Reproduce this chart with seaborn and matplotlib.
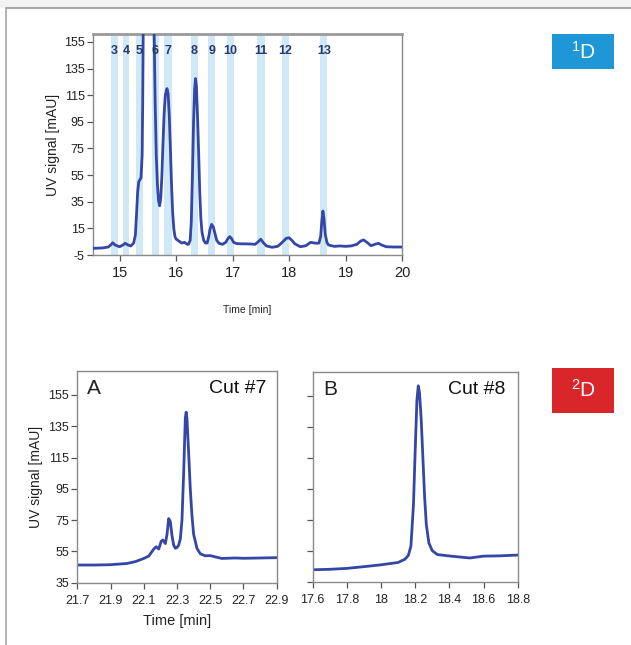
import matplotlib
matplotlib.use("Agg")
import matplotlib.pyplot as plt
import seaborn as sns
import pandas as pd
from matplotlib.lines import Line2D
from matplotlib.patches import Rectangle
from matplotlib import font_manager

# ---------------- data ----------------
# 1D chromatogram trace
t1_time = [14.53, 14.7, 14.8, 14.85, 14.88, 14.92, 15.0, 15.06, 15.1, 15.15, 15.2,
           15.25, 15.28, 15.30, 15.32, 15.34, 15.36, 15.38, 15.40, 15.41, 15.42, 15.45,
           15.55, 15.61, 15.63, 15.65, 15.67, 15.69, 15.71, 15.73, 15.75, 15.77, 15.79,
           15.81, 15.84, 15.86, 15.88, 15.90, 15.92, 15.94, 15.96, 15.98, 16.0, 16.05,
           16.1, 16.15, 16.2, 16.22, 16.25, 16.27, 16.29, 16.31, 16.33, 16.345, 16.36,
           16.38, 16.40, 16.42, 16.44, 16.46, 16.49, 16.52, 16.55, 16.58, 16.60, 16.63,
           16.66, 16.69, 16.72, 16.76, 16.82, 16.88, 16.92, 16.95, 16.98, 17.02, 17.07,
           17.15, 17.3, 17.4, 17.45, 17.5, 17.54, 17.6, 17.7, 17.8, 17.88, 17.95, 18.0,
           18.05, 18.1, 18.2, 18.3, 18.38, 18.45, 18.5, 18.53, 18.56, 18.58, 18.60,
           18.62, 18.64, 18.67, 18.7, 18.8, 18.9, 19.0, 19.1, 19.2, 19.27, 19.32, 19.38,
           19.45, 19.52, 19.58, 19.64, 19.72, 19.85, 20.0]
t1_signal = [0.0, 0.3, 1.0, 2.8, 4.2, 2.5, 1.2, 2.5, 3.8, 2.5, 1.8,
             4.0, 10, 25, 42, 50, 51.5, 53, 70, 110, 170, 400,
             500, 170, 110, 70, 48, 36, 32, 38, 55, 80, 102,
             115, 120, 116, 100, 75, 48, 27, 15, 9, 7, 5.5,
             4.0, 4.5, 3.0, 3.0, 6, 20, 55, 95, 120, 127.5, 122,
             100, 72, 42, 22, 12, 6, 4, 4, 9, 14, 18,
             16, 11, 6, 3.8, 3.0, 4.5, 7.5, 8.8, 7.5, 4.5, 3.6,
             3.4, 3.3, 3.0, 4.8, 6.8, 4.5, 1.8, 0.8, 1.5, 4.5, 7.5, 8.0,
             6.0, 3.5, 1.2, 2.0, 4.5, 4.0, 3.8, 4.0, 9, 20, 28,
             22, 11, 4.5, 2.5, 1.5, 1.8, 1.5, 1.8, 3.0, 5.5, 6.3, 4.5,
             2.0, 3.0, 3.8, 2.5, 1.2, 1.0, 1.0]

# fraction cut windows (start, end) and labels
cut_labels = ["3", "4", "5", "6", "7", "8", "9", "10", "11", "12", "13"]
cut_start = [14.853, 15.06, 15.30, 15.57, 15.79, 16.26, 16.57, 16.90, 17.44, 17.87, 18.55]
cut_end = [14.965, 15.17, 15.41, 15.69, 15.93, 16.38, 16.69, 17.02, 17.57, 18.00, 18.68]

# 2D cut #7
a_time = [21.7, 21.8, 21.9, 22.0, 22.05, 22.1, 22.13, 22.16, 22.175, 22.19, 22.205,
          22.215, 22.23, 22.24, 22.25, 22.26, 22.27, 22.28, 22.29, 22.30, 22.31, 22.32,
          22.33, 22.34, 22.35, 22.355, 22.36, 22.37, 22.38, 22.39, 22.40, 22.42, 22.44,
          22.47, 22.5, 22.53, 22.57, 22.65, 22.7, 22.8, 22.9]
a_signal = [46.3, 46.3, 46.5, 47.3, 48.5, 50.5, 52, 56.5, 58, 56.5, 61.5,
            62.3, 60, 66, 76, 74, 65, 59, 57, 57.5, 59, 63,
            75, 105, 140, 144, 140, 118, 95, 78, 66, 57, 53.5,
            52.2, 52.3, 51.5, 50.5, 50.8, 50.6, 50.8, 51.0]

# 2D cut #8
b_time = [17.6, 17.7, 17.8, 17.9, 18.0, 18.1, 18.14, 18.16, 18.175, 18.19, 18.2,
          18.21, 18.218, 18.225, 18.235, 18.245, 18.255, 18.265, 18.28, 18.3, 18.33,
          18.4, 18.52, 18.6, 18.7, 18.8]
b_signal = [42.7, 43.0, 43.6, 44.7, 45.9, 47.4, 49.5, 52, 58, 85, 120,
            152, 161.4, 157, 140, 115, 90, 72, 60, 55, 52.5,
            51.6, 50.3, 51.5, 51.7, 52.2]

y_ticks_1d = [-5, 15, 35, 55, 75, 95, 115, 135, 155]
x_ticks_1d = [15, 16, 17, 18, 19, 20]
y_ticks_2d = [35, 55, 75, 95, 115, 135, 155]
x_ticks_a = [21.7, 21.9, 22.1, 22.3, 22.5, 22.7, 22.9]
x_ticks_b = [17.6, 17.8, 18.0, 18.2, 18.4, 18.6, 18.8]
x_ticklabels_b = ["17.6", "17.8", "18", "18.2", "18.4", "18.6", "18.8"]

# ---------------- style ----------------
sns.set_theme(style="white")
names = {f.name for f in font_manager.fontManager.ttflist}
narrow = "Liberation Sans Narrow" if "Liberation Sans Narrow" in names else "Liberation Sans"
plt.rcParams["font.family"] = ["Liberation Sans", "DejaVu Sans"]
plt.rcParams["mathtext.default"] = "regular"
plt.rcParams["axes.unicode_minus"] = False

LINE = "#3446a6"
BAND = "#cfe9f6"
W, H = 631, 645

fig = plt.figure(figsize=(W / 100, H / 100), dpi=100)
fig.patch.set_facecolor("white")


def ax_px(left, top, right, bottom):
    return fig.add_axes([left / W, 1 - bottom / H, (right - left) / W, (bottom - top) / H])


# outer frame
fig.patches.append(Rectangle((0, 1 - 8 / H), 1, 8 / H, transform=fig.transFigure,
                             facecolor="#f3f3f3", edgecolor="none", zorder=0))
fig.lines.append(Line2D([6 / W, 1], [1 - 8 / H, 1 - 8 / H], transform=fig.transFigure,
                        color="#a8a8a8", lw=1.5))
fig.lines.append(Line2D([6 / W, 6 / W], [0, 1 - 8 / H], transform=fig.transFigure,
                        color="#a8a8a8", lw=1.2))


def style_axes(ax):
    for s in ax.spines.values():
        s.set_color("#8a8a8a")
        s.set_linewidth(1.0)
    ax.tick_params(axis="both", direction="out", length=4, width=0.9, color="#555555",
                   labelcolor="#222222", bottom=True, left=True, pad=2)
    ax.grid(False)


LW = dict(linewidth=2.0, solid_joinstyle="round", solid_capstyle="round")

# ---------------- 1D ----------------
ax1 = ax_px(93, 34, 402, 255)
for s, e in zip(cut_start, cut_end):
    ax1.axvspan(s, e, color=BAND, lw=0, zorder=0)
df1 = pd.DataFrame({"t": t1_time, "s": t1_signal})
sns.lineplot(data=df1, x="t", y="s", ax=ax1, color=LINE, sort=False, zorder=3, **LW)
for lab, s, e in zip(cut_labels, cut_start, cut_end):
    ax1.text((s + e) / 2, 148.5, lab, ha="center", va="center", fontsize=9,
             color="#27386e", family=narrow, fontweight="bold", zorder=4)
ax1.set_xlim(14.53, 20)
ax1.set_ylim(-5, 161)
ax1.set_yticks(y_ticks_1d)
ax1.set_xticks(x_ticks_1d)
style_axes(ax1)
ax1.spines["top"].set_linewidth(2.0)
ax1.spines["top"].set_color("#9a9a9a")
ax1.tick_params(axis="y", labelsize=9)
ax1.tick_params(axis="x", labelsize=10.5, pad=4)
for lb in ax1.get_xticklabels() + ax1.get_yticklabels():
    lb.set_family(narrow)
ax1.set_xlabel("Time [min]", fontsize=7.5, family=narrow, labelpad=18, color="#222222")
ax1.set_ylabel("UV signal [mAU]", fontsize=10, family=narrow, labelpad=3, color="#222222")

# ---------------- 2D A ----------------
axA = ax_px(77.3, 370.7, 276.7, 582.7)
dfa = pd.DataFrame({"t": a_time, "s": a_signal})
sns.lineplot(data=dfa, x="t", y="s", ax=axA, color=LINE, sort=False, **LW)
axA.set_xlim(21.7, 22.9)
axA.set_ylim(35, 170.5)
axA.set_yticks(y_ticks_2d)
axA.set_xticks(x_ticks_a)
axA.set_xticklabels([f"{v:.1f}" for v in x_ticks_a])
style_axes(axA)
axA.tick_params(labelsize=9)
axA.tick_params(axis="x", pad=5)
for lb in axA.get_xticklabels() + axA.get_yticklabels():
    lb.set_family(narrow)
axA.set_xlabel("Time [min]", fontsize=10.5, family=narrow, labelpad=5, color="#222222")
axA.set_ylabel("UV signal [mAU]", fontsize=10, family=narrow, labelpad=4, color="#222222")
axA.text(0.05, 0.915, "A", transform=axA.transAxes, fontsize=15, ha="left", va="center",
         color="#222222")
axA.text(0.95, 0.915, "Cut #7", transform=axA.transAxes, fontsize=14, ha="right",
         va="center", color="#111111")

# ---------------- 2D B ----------------
axB = ax_px(312.7, 371.7, 517.7, 581.7)
dfb = pd.DataFrame({"t": b_time, "s": b_signal})
sns.lineplot(data=dfb, x="t", y="s", ax=axB, color=LINE, sort=False, **LW)
axB.set_xlim(17.6, 18.8)
axB.set_ylim(35, 170.5)
axB.set_yticks(y_ticks_2d)
axB.set_yticklabels([])
axB.set_xticks(x_ticks_b)
axB.set_xticklabels(x_ticklabels_b)
style_axes(axB)
axB.tick_params(labelsize=9)
axB.tick_params(axis="x", pad=5)
for lb in axB.get_xticklabels():
    lb.set_family(narrow)
axB.set_xlabel("")
axB.set_ylabel("")
axB.text(0.05, 0.915, "B", transform=axB.transAxes, fontsize=15, ha="left", va="center",
         color="#222222")
axB.text(0.94, 0.915, "Cut #8", transform=axB.transAxes, fontsize=14, ha="right",
         va="center", color="#111111")

# ---------------- badges ----------------
def badge(left, top, right, bottom, color, label):
    fig.patches.append(Rectangle((left / W, 1 - bottom / H), (right - left) / W,
                                 (bottom - top) / H, transform=fig.transFigure,
                                 facecolor=color, edgecolor="none"))
    fig.text((left + right) / 2 / W, 1 - (top + bottom) / 2 / H, label, color="white",
             fontsize=15, ha="center", va="center")


badge(552, 34, 614, 69, "#1f97d6", r"$^{1}$D")
badge(552, 367.7, 614, 412.7, "#d9262a", r"$^{2}$D")

fig.savefig("out.png", dpi=100)
